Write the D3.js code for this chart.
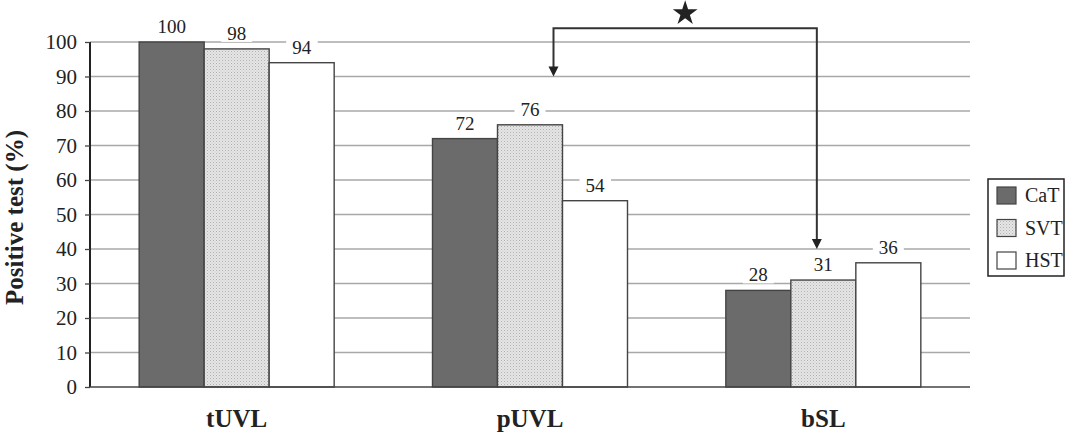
<!DOCTYPE html>
<html>
<head>
<meta charset="utf-8">
<script src="https://cdn.jsdelivr.net/npm/d3@7"></script>
<style>
  body { margin: 0; background: #fff; }
  svg text { font-family: "Liberation Serif", "Tinos", "DejaVu Serif", serif !important; fill: #222; }
</style>
</head>
<body>
<script>
// data
var categories = ["tUVL", "pUVL", "bSL"];
var groups = ["CaT", "SVT", "HST"];
var CaT = [100, 72, 28];
var SVT = [98, 76, 31];
var HST = [94, 54, 36];
var yTicks = [0, 10, 20, 30, 40, 50, 60, 70, 80, 90, 100];

// set the dimensions and margins of the graph
var margin = {top: 42, right: 102, bottom: 52, left: 90},
  width = 1072 - margin.left - margin.right,
  height = 439 - margin.top - margin.bottom;

var svg = d3.select("body").append("svg")
  .attr("width", 1072)
  .attr("height", 439);

// dotted fill for SVT
var defs = svg.append("defs");
var pat = defs.append("pattern")
  .attr("id", "dots")
  .attr("width", 3).attr("height", 3)
  .attr("patternUnits", "userSpaceOnUse");
pat.append("rect").attr("width", 3).attr("height", 3).attr("fill", "#e6e6e6");
pat.append("rect").attr("x", 0).attr("y", 0).attr("width", 1).attr("height", 1).attr("fill", "#b0b0b0");
pat.append("rect").attr("x", 1.5).attr("y", 1.5).attr("width", 1).attr("height", 1).attr("fill", "#c4c4c4");

var fills = {CaT: "#6b6b6b", SVT: "url(#dots)", HST: "#ffffff"};
var values = {CaT: CaT, SVT: SVT, HST: HST};

var g = svg.append("g")
  .attr("transform", "translate(" + margin.left + "," + margin.top + ")");

// set the ranges
var x = d3.scaleBand().domain(categories).range([0, width]).paddingInner(0).paddingOuter(0);
var groupW = 195;
var xs = d3.scaleBand().domain(groups).range([0, groupW]);
var y = d3.scaleLinear().domain([0, 100]).range([height, 0]);

function gx(c) { return x(c) + (x.bandwidth() - groupW) / 2; }

// grid lines
g.selectAll(".grid").data(yTicks.slice(1)).enter().append("line")
  .attr("x1", 0).attr("x2", width)
  .attr("y1", function(d) { return y(d); })
  .attr("y2", function(d) { return y(d); })
  .attr("stroke", "#a8a8a8").attr("stroke-width", 1.3);

// bars
var rows = [];
categories.forEach(function(c, i) {
  groups.forEach(function(s) { rows.push({cat: c, grp: s, v: values[s][i]}); });
});

g.selectAll(".bar").data(rows).enter().append("rect")
  .attr("x", function(d) { return gx(d.cat) + xs(d.grp); })
  .attr("y", function(d) { return y(d.v); })
  .attr("width", xs.bandwidth())
  .attr("height", function(d) { return height - y(d.v); })
  .attr("fill", function(d) { return fills[d.grp]; })
  .attr("stroke", "#444").attr("stroke-width", 1.4);

// value labels with white background
var lab = g.selectAll(".lab").data(rows).enter().append("g");
lab.append("rect").attr("class", "bg").attr("fill", "#fff");
lab.append("text")
  .attr("x", function(d) { return gx(d.cat) + xs(d.grp) + xs.bandwidth() / 2; })
  .attr("y", function(d) { return y(d.v) - 9; })
  .attr("text-anchor", "middle")
  .style("font-size", "19px")
  .text(function(d) { return d.v; });
lab.each(function() {
  var t = d3.select(this).select("text").node().getBBox();
  d3.select(this).select("rect")
    .attr("x", t.x - 6).attr("y", t.y + 2)
    .attr("width", t.width + 12).attr("height", t.height - 4);
});

// Y axis
var yAxis = g.append("g")
  .attr("font-family", null)
  .call(d3.axisLeft(y).tickValues(yTicks).tickSize(5).tickPadding(8));
yAxis.select(".domain").attr("stroke", "#222").attr("stroke-width", 2).attr("d", "M0," + height + "V0");
yAxis.selectAll(".tick line").attr("stroke", "#444").attr("stroke-width", 1.3);
yAxis.selectAll(".tick text")
  .style("font-size", "21px").attr("fill", "#222");

// X axis line
g.append("line")
  .attr("x1", 0).attr("x2", width)
  .attr("y1", height).attr("y2", height)
  .attr("stroke", "#444").attr("stroke-width", 1.5);

// category labels
g.selectAll(".cat").data(categories).enter().append("text")
  .attr("x", function(d) { return x(d) + x.bandwidth() / 2; })
  .attr("y", height + 40)
  .attr("text-anchor", "middle")
  .style("font-size", "25px").style("font-weight", "bold")
  .text(function(d) { return d; });

// y title
svg.append("text")
  .attr("transform", "translate(23," + (margin.top + height / 2 + 3) + ") rotate(-90)")
  .attr("text-anchor", "middle")
  .style("font-size", "25px").style("font-weight", "bold")
  .text("Positive test (%)");

// significance bracket
var bx1 = gx("pUVL") + 121, bx2 = gx("bSL") + 91;
var bTop = y(104);
g.append("path")
  .attr("d", "M" + bx1 + "," + (y(90) - 8) + "V" + bTop + "H" + bx2 + "V" + (y(40) - 8))
  .attr("fill", "none").attr("stroke", "#333").attr("stroke-width", 2);
[[bx1, y(90)], [bx2, y(40)]].forEach(function(p) {
  g.append("path")
    .attr("d", "M" + (p[0] - 5) + "," + (p[1] - 10) + "L" + (p[0] + 5) + "," + (p[1] - 10) + "L" + p[0] + "," + p[1] + "Z")
    .attr("fill", "#222");
});
g.append("path")
  .attr("d", d3.symbol().type(d3.symbolStar).size(190)())
  .attr("transform", "translate(" + ((bx1 + bx2) / 2) + "," + y(108.3) + ")")
  .attr("fill", "#222");

// legend
var leg = svg.append("g").attr("transform", "translate(988,179)");
leg.append("rect").attr("width", 76).attr("height", 97)
  .attr("fill", "#fff").attr("stroke", "#222").attr("stroke-width", 1.5);
groups.forEach(function(s, i) {
  leg.append("rect")
    .attr("x", 9).attr("y", 8 + i * 32.5).attr("width", 19).attr("height", 17)
    .attr("fill", fills[s]).attr("stroke", "#444").attr("stroke-width", 1.2);
  leg.append("text")
    .attr("x", 37).attr("y", 23 + i * 32.5)
    .style("font-size", "20px")
    .text(s);
});
</script>
</body>
</html>
